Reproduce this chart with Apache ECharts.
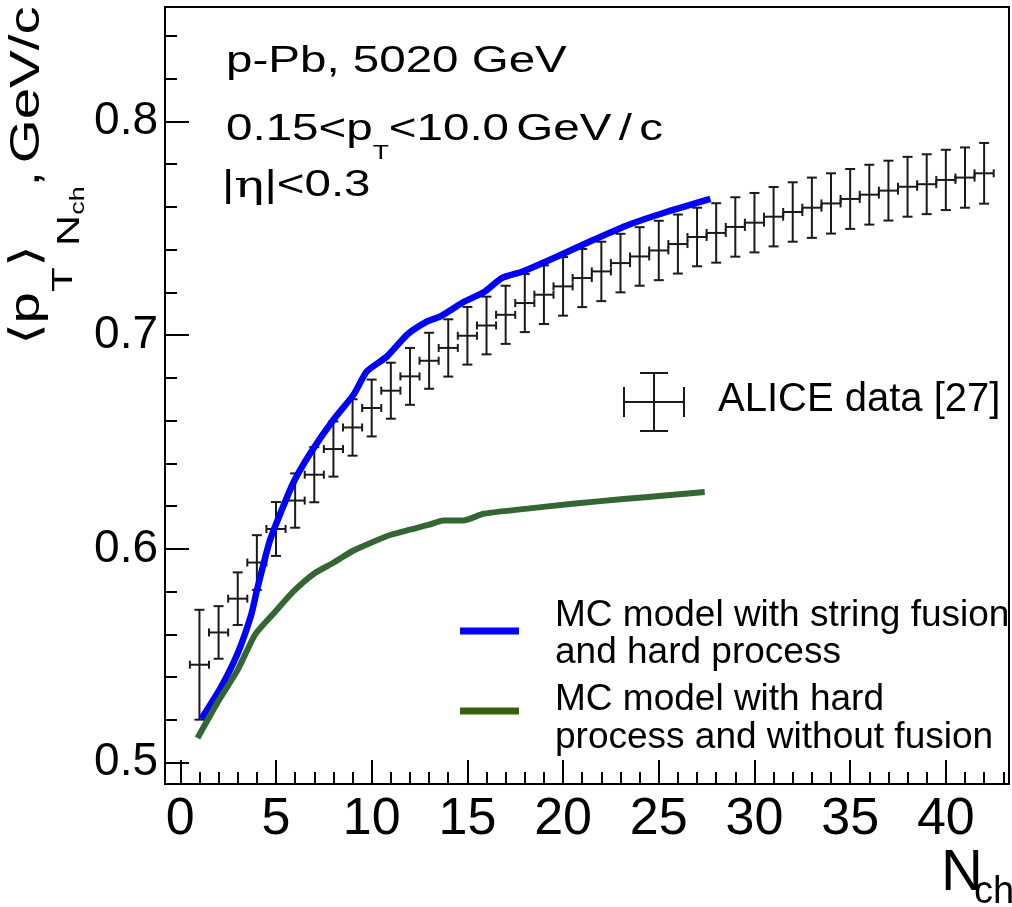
<!DOCTYPE html>
<html>
<head>
<meta charset="utf-8">
<script src="https://cdn.jsdelivr.net/npm/echarts@6/dist/echarts.min.js"></script>
<style>
html,body{margin:0;padding:0;background:#fff;}
#chart{width:1012px;height:907px;}
</style>
</head>
<body>
<div id="chart"></div>
<script>
// ---- data ----
const nch = [1,2,3,4,5,6,7,8,9,10,11,12,13,14,15,16,17,18,19,20,21,22,23,24,25,26,27,28,29,30,31,32,33,34,35,36,37,38,39,40,41,42];
const meanPt = [0.5458,0.5609,0.5767,0.5936,0.6093,0.6226,0.6347,0.6467,0.6568,0.6659,0.6740,0.6807,0.6880,0.6940,0.6997,0.7045,0.7095,0.7150,0.7189,0.7228,0.7267,0.7298,0.7337,0.7368,0.7396,0.7426,0.7459,0.7478,0.7506,0.7526,0.7554,0.7576,0.7596,0.7616,0.7637,0.7657,0.7676,0.7694,0.7706,0.7726,0.7737,0.7757];
const errPt = [0.0257,0.0123,0.0123,0.0128,0.0126,0.0127,0.0129,0.0129,0.0132,0.0133,0.0131,0.0133,0.0131,0.0134,0.0135,0.0135,0.0136,0.0136,0.0137,0.0137,0.0136,0.0139,0.0137,0.0137,0.0139,0.0138,0.0137,0.0139,0.0139,0.0139,0.0139,0.0139,0.0141,0.0141,0.0140,0.0140,0.0140,0.0140,0.0140,0.0141,0.0141,0.0142];
const nchHalfWidth = 0.5;

const fusionX = [1.1,2.1,3.0,3.7,4.0,4.35,4.65,5.0,5.9,6.8,8.0,9.05,9.75,10.8,11.85,12.9,13.6,14.8,15.85,16.8,17.9,19.7,21.4,23.3,25.4,27.7];
const fusionY = [0.5205,0.5349,0.5512,0.5690,0.5805,0.5930,0.6030,0.6115,0.6308,0.6448,0.6604,0.6721,0.6830,0.6900,0.7002,0.7064,0.7088,0.7155,0.7200,0.7267,0.7298,0.7368,0.7438,0.7512,0.7576,0.7637];

const noFusionX = [0.9,2.0,3.0,3.9,4.9,5.9,7.0,8.0,9.0,10.0,11.0,12.0,13.0,13.75,14.8,15.85,17.9,20.5,23.15,25.75,27.4];
const noFusionY = [0.5115,0.5290,0.5434,0.5598,0.5700,0.5800,0.5885,0.5935,0.5990,0.6030,0.6066,0.6090,0.6113,0.6133,0.6133,0.6164,0.6186,0.6211,0.6233,0.6253,0.6266];

const xMajorTicks = [0,5,10,15,20,25,30,35,40];
const xMinorTicks = [0,1,2,3,4,5,6,7,8,9,10,11,12,13,14,15,16,17,18,19,20,21,22,23,24,25,26,27,28,29,30,31,32,33,34,35,36,37,38,39,40,41,42,43];
const yMajorTicks = [0.5,0.6,0.7,0.8];
const yMinorTicks = [0.5,0.52,0.54,0.56,0.58,0.6,0.62,0.64,0.66,0.68,0.7,0.72,0.74,0.76,0.78,0.8,0.82,0.84];

const legendNames = ['ALICE data [27]', 'MC model with string fusion', 'and hard process', 'MC model with hard', 'process and without fusion'];

// ---- chart ----
const FONT = '"Liberation Sans", Arial, Helvetica, sans-serif';
const chart = echarts.init(document.getElementById('chart'), null, {renderer:'canvas'});

const X_MIN = -0.8, X_MAX = 43.3, Y_MIN = 0.49, Y_MAX = 0.8535;
const axisCommon = {type:'value', splitLine:{show:false}};

const errData = nch.map((x,i)=>[x, meanPt[i], errPt[i]]);

function renderErr(params, api){
  const x = api.value(0), y = api.value(1), e = api.value(2);
  const c = api.coord([x, y]);
  const t = api.coord([x, y + e]);
  const b = api.coord([x, y - e]);
  const l = api.coord([x - nchHalfWidth, y]);
  const r = api.coord([x + nchHalfWidth, y]);
  const cap = 5, tk = 4;
  const st = {stroke:'#1a1a1a', lineWidth:2};
  const ln = (x1,y1,x2,y2)=>({type:'line', shape:{x1,y1,x2,y2}, style:st});
  return {type:'group', children:[
    ln(c[0], t[1], c[0], b[1]),
    ln(c[0]-cap, t[1], c[0]+cap, t[1]),
    ln(c[0]-cap, b[1], c[0]+cap, b[1]),
    ln(l[0], c[1], r[0], c[1]),
    ln(l[0], c[1]-tk, l[0], c[1]+tk),
    ln(r[0], c[1]-tk, r[0], c[1]+tk)
  ]};
}

const topScale = 1.32;
const subStyles = {
  a:{fontSize:36, lineHeight:40, fontFamily:FONT, color:'#000', verticalAlign:'top'},
  s:{fontSize:20, lineHeight:20, fontFamily:FONT, color:'#000', verticalAlign:'top', padding:[31,0,0,0]},
  sp:{fontSize:20, lineHeight:40, fontFamily:FONT, color:'#000', verticalAlign:'top'},
  g:{fontSize:38, lineHeight:40, fontFamily:'"DejaVu Serif", "Liberation Serif", serif', color:'#000', verticalAlign:'top'}
};

function txt(x, y, text, size){
  return {type:'text', x:x, y:y, z:10,
    style:{text:text, fontSize:size, fontFamily:FONT, fill:'#000', textAlign:'left', textVerticalAlign:'top'}};
}

const option = {
  animation:false,
  backgroundColor:'#fff',
  grid:{left:165, right:3, top:7, bottom:123, show:true, borderColor:'#000', borderWidth:2, backgroundColor:'rgba(0,0,0,0)'},
  xAxis:[
    Object.assign({}, axisCommon, {min:X_MIN, max:X_MAX,
      axisLine:{show:true, onZero:false, lineStyle:{color:'#000', width:2}},
      axisTick:{show:true, inside:true, length:24, customValues:xMajorTicks, lineStyle:{color:'#000', width:2}},
      axisLabel:{show:true, customValues:xMajorTicks, fontSize:52, fontFamily:FONT, color:'#000', margin:10}
    }),
    Object.assign({}, axisCommon, {min:X_MIN, max:X_MAX, position:'bottom', offset:0,
      axisLine:{show:false, onZero:false},
      axisTick:{show:true, inside:true, length:12, customValues:xMinorTicks, lineStyle:{color:'#000', width:2}},
      axisLabel:{show:false}
    })
  ],
  yAxis:[
    Object.assign({}, axisCommon, {min:Y_MIN, max:Y_MAX,
      axisLine:{show:true, onZero:false, lineStyle:{color:'#000', width:2}},
      axisTick:{show:true, inside:true, length:24, customValues:yMajorTicks, lineStyle:{color:'#000', width:2}},
      axisLabel:{show:true, customValues:yMajorTicks, fontSize:46, fontFamily:FONT, color:'#000', margin:7,
        formatter:(v)=>v.toFixed(1)}
    }),
    Object.assign({}, axisCommon, {min:Y_MIN, max:Y_MAX, position:'left', offset:0,
      axisLine:{show:false, onZero:false},
      axisTick:{show:true, inside:true, length:12, customValues:yMinorTicks, lineStyle:{color:'#000', width:2}},
      axisLabel:{show:false}
    })
  ],
  series:[
    {type:'custom', name:legendNames[0], xAxisIndex:0, yAxisIndex:0, data:errData, renderItem:renderErr, z:2, clip:false},
    {type:'line', name:legendNames[1], xAxisIndex:0, yAxisIndex:0, data:fusionX.map((x,i)=>[x,fusionY[i]]),
      showSymbol:false, smooth:0.2, lineStyle:{color:'#0000ff', width:6.5}, z:3},
    {type:'line', name:legendNames[3], xAxisIndex:0, yAxisIndex:0, data:noFusionX.map((x,i)=>[x,noFusionY[i]]),
      showSymbol:false, smooth:0.2, lineStyle:{color:'#336633', width:6}, z:3}
  ],
  graphic:[
    // top-left annotation
    {type:'text', x:226, y:44, scaleX:topScale, z:10,
      style:{text:'{a|p-Pb, 5020 GeV}', rich:subStyles, textAlign:'left', textVerticalAlign:'top'}},
    {type:'text', x:226, y:112, scaleX:topScale, z:10,
      style:{text:'{a|0.15<p}{s|T}{a|<10.0}{sp| }{a|GeV}{sp| }{a|/}{sp| }{a|c}', rich:subStyles, textAlign:'left', textVerticalAlign:'top'}},
    {type:'text', x:222, y:168, scaleX:topScale, z:10,
      style:{text:'{a||}{g|η}{a||<0.3}', rich:subStyles, textAlign:'left', textVerticalAlign:'top'}},
    // y-axis title
    {type:'text', x:6, y:345, rotation:Math.PI/2, scaleX:1.345, z:10,
      style:{text:'{a|⟨p}{t|T}{a|⟩}{n|N}{c|ch}{a|,}{sp| }{a|GeV/c}', textAlign:'left', textVerticalAlign:'top',
        rich:{
          a:{fontSize:42, lineHeight:44, fontFamily:FONT, color:'#000', verticalAlign:'top'},
          sp:{fontSize:20, lineHeight:44, fontFamily:FONT, color:'#000', verticalAlign:'top'},
          t:{fontSize:30, lineHeight:30, fontFamily:FONT, color:'#000', verticalAlign:'top', padding:[43,0,0,0]},
          n:{fontSize:32, lineHeight:32, fontFamily:FONT, color:'#000', verticalAlign:'top', padding:[48,0,0,0]},
          c:{fontSize:20, lineHeight:20, fontFamily:FONT, color:'#000', verticalAlign:'top', padding:[62,0,0,0]}
        }}},
    // x-axis title
    txt(941, 845, 'N', 58),
    txt(974, 874, 'ch', 38),
    // legend: ALICE data marker
    {type:'group', z:10, children:[
      {type:'line', shape:{x1:624, y1:402, x2:684, y2:402}, style:{stroke:'#1a1a1a', lineWidth:2}},
      {type:'line', shape:{x1:624, y1:387, x2:624, y2:417}, style:{stroke:'#1a1a1a', lineWidth:2}},
      {type:'line', shape:{x1:684, y1:387, x2:684, y2:417}, style:{stroke:'#1a1a1a', lineWidth:2}},
      {type:'line', shape:{x1:654, y1:373, x2:654, y2:431}, style:{stroke:'#1a1a1a', lineWidth:2}},
      {type:'line', shape:{x1:640, y1:373, x2:668, y2:373}, style:{stroke:'#1a1a1a', lineWidth:2}},
      {type:'line', shape:{x1:640, y1:431, x2:668, y2:431}, style:{stroke:'#1a1a1a', lineWidth:2}}
    ]},
    txt(718, 380, legendNames[0], 40),
    // legend: model lines
    {type:'line', z:10, shape:{x1:460, y1:631, x2:519, y2:631}, style:{stroke:'#0000ff', lineWidth:7}},
    txt(555, 597, legendNames[1], 37),
    txt(555, 634, legendNames[2], 37),
    {type:'line', z:10, shape:{x1:460, y1:711, x2:519, y2:711}, style:{stroke:'#3a5f0b', lineWidth:7}},
    txt(555, 681, legendNames[3], 37),
    txt(555, 719, legendNames[4], 37)
  ]
};
chart.setOption(option);
</script>
</body>
</html>
